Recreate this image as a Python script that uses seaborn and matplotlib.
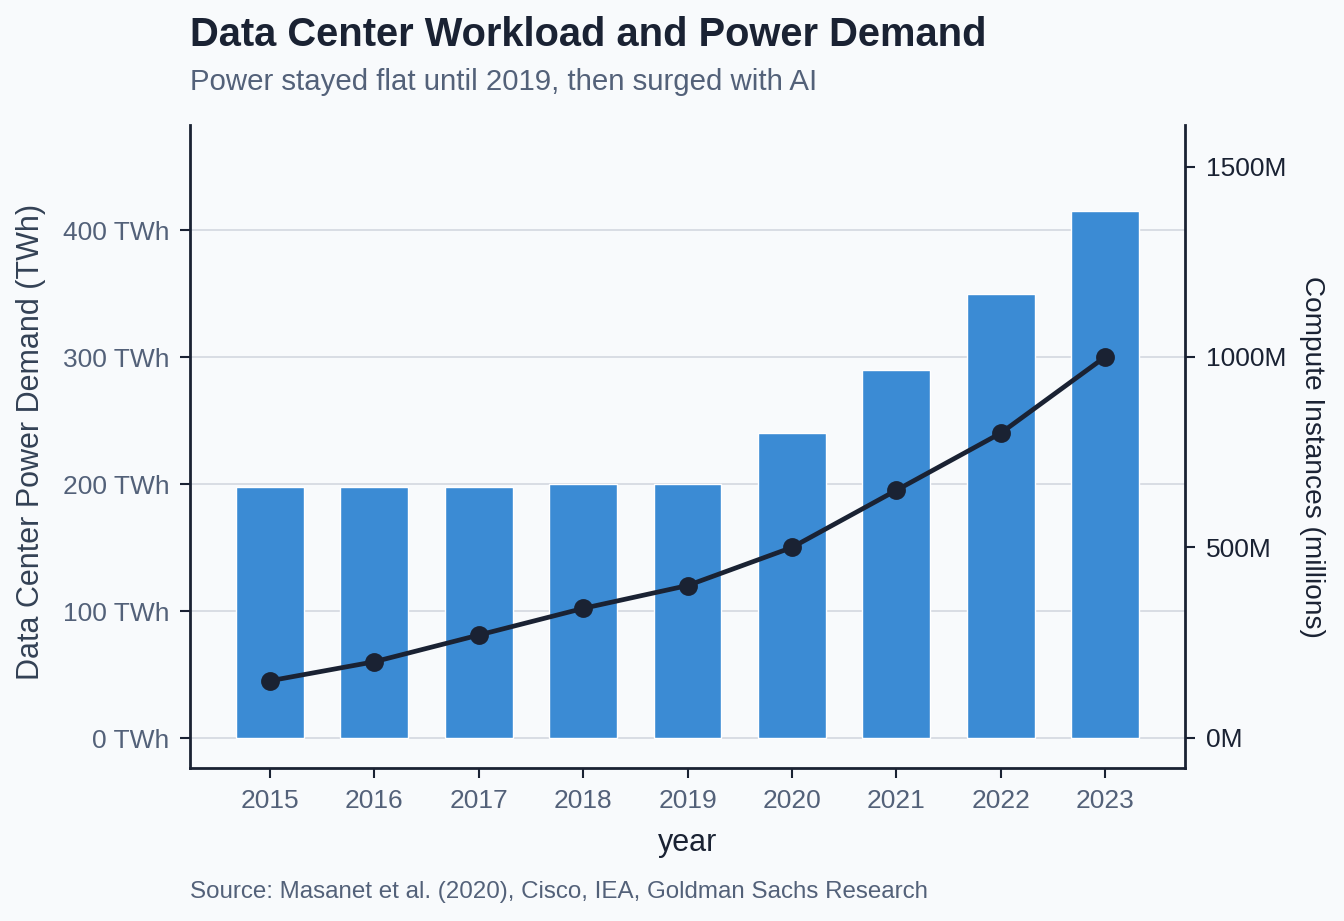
import pandas as pd
import matplotlib.pyplot as plt
import seaborn as sns
from matplotlib.ticker import FuncFormatter

years = ['2015', '2016', '2017', '2018', '2019', '2020', '2021', '2022', '2023']
power_twh = [198, 198, 198, 200, 200, 240, 290, 350, 415]
instances_m = [150, 200, 270, 340, 400, 500, 650, 800, 1000]

df = pd.DataFrame({'year': years, 'power': power_twh, 'instances': instances_m})

BG = '#f8fafc'
BAR = '#3b8bd4'
DARK = '#1a2233'
SLATE = '#536179'
GRID = '#d3d8e0'

sns.set_theme(style='white')
plt.rcParams['font.family'] = ['Liberation Sans', 'DejaVu Sans']

fig = plt.figure(figsize=(13.44, 9.21), dpi=100, facecolor=BG)
ax = fig.add_axes([0.1414, 0.1661, 0.7403, 0.6982])
ax.set_facecolor(BG)

# bars: power demand
sns.barplot(data=df, x='year', y='power', color=BAR, width=0.65, saturation=1, ax=ax, zorder=2)
ax.set_ylim(-23.6, 483)
ax.set_yticks([0, 100, 200, 300, 400])
ax.yaxis.set_major_formatter(FuncFormatter(lambda v, p: f'{int(v)} TWh'))
ax.grid(axis='y', color=GRID, linewidth=1.2, zorder=0)
ax.set_axisbelow(True)

# line: compute instances
ax2 = ax.twinx()
sns.pointplot(data=df, x='year', y='instances', color=DARK, markers='o', markersize=11,
              linewidth=3.4, ax=ax2)
ax2.set_ylim(-79, 1609)
ax2.set_yticks([0, 500, 1000, 1500])
ax2.yaxis.set_major_formatter(FuncFormatter(lambda v, p: f'{int(v)}M'))
ax.set_xlim(-0.766, 8.766)

for a in (ax, ax2):
    for s in a.spines.values():
        s.set_color(DARK)
        s.set_linewidth(2)
    a.spines['top'].set_visible(False)
ax.spines['right'].set_visible(False)
ax2.spines['left'].set_visible(False)
ax2.spines['bottom'].set_visible(False)

ax.tick_params(axis='both', which='major', length=7, width=1.5, color=DARK,
               labelsize=19, labelcolor=SLATE, pad=8, left=True, bottom=True)
ax2.tick_params(axis='y', length=7, width=1.5, color=DARK, labelsize=19,
                labelcolor=DARK, pad=8, right=True)

ax.set_xlabel('year', fontsize=22, color=DARK)
ax.set_ylabel('Data Center Power Demand (TWh)', fontsize=22, color='#334155')
ax2.set_ylabel('Compute Instances (millions)', fontsize=20.2, color=DARK, rotation=270, va='center')
ax.xaxis.set_label_coords(0.5, -0.093)
ax.yaxis.set_label_coords(-0.145, 0.507)
ax2.yaxis.set_label_coords(1.128, 0.484)

fig.text(0.1414, 0.950, 'Data Center Workload and Power Demand', fontsize=28.7,
         fontweight='bold', color=DARK, va='baseline')
fig.text(0.1414, 0.902, 'Power stayed flat until 2019, then surged with AI', fontsize=21.2,
         color=SLATE, va='baseline')
fig.text(0.1414, 0.025, 'Source: Masanet et al. (2020), Cisco, IEA, Goldman Sachs Research',
         fontsize=17.4, color=SLATE, va='baseline')

fig.savefig('out.png', dpi=100, facecolor=BG)
